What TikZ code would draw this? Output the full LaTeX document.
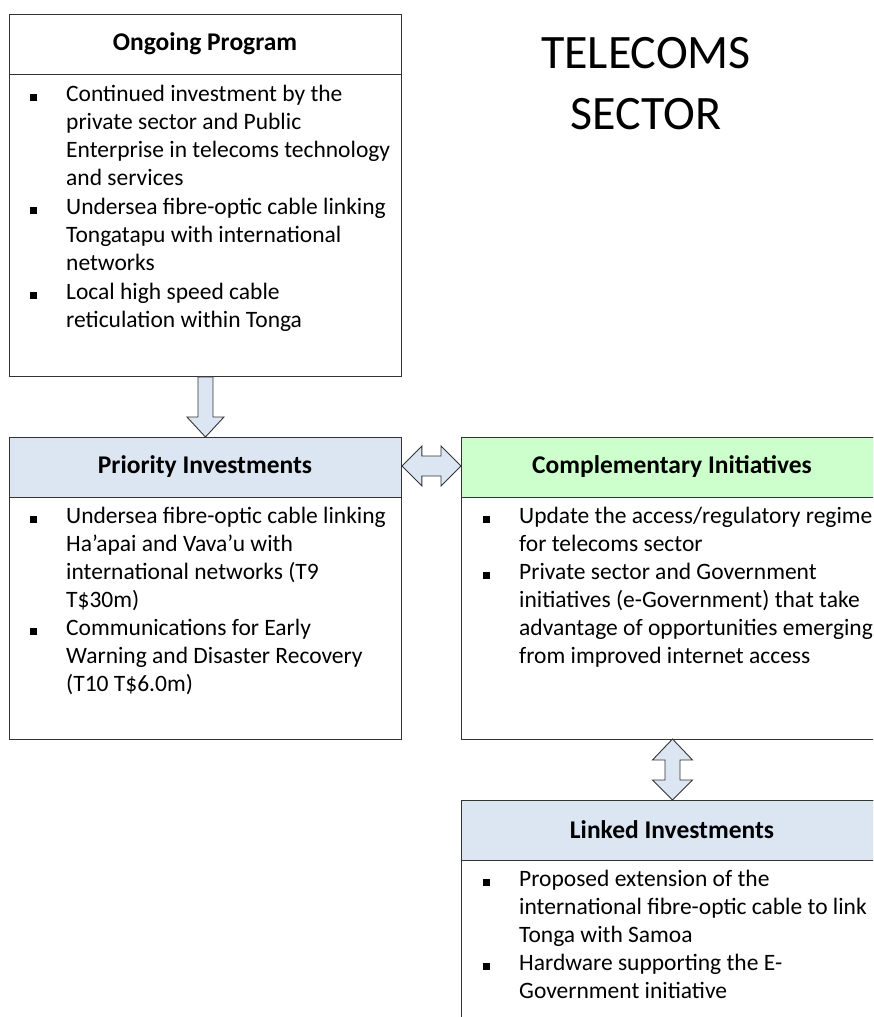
\documentclass[tikz,border=0pt]{standalone}
\usepackage{fontspec}
\setmainfont{Carlito}
\usetikzlibrary{calc}
\definecolor{hblue}{HTML}{DCE6F2}
\definecolor{hgreen}{HTML}{CCFFCC}
\definecolor{edge}{HTML}{333333}
\tikzset{
  box/.style={draw=edge, line width=0.9pt, anchor=north west, inner sep=0pt},
  head/.style={inner sep=0pt, font=\fontsize{25.5}{30}\selectfont\bfseries},
  txt/.style={anchor=mid west, inner sep=0pt, font=\fontsize{23.5}{28}\selectfont},
  bul/.style={fill=black, draw=none, minimum size=7pt, inner sep=0pt},
  blockarrow/.style={draw=edge, line width=0.9pt, fill=hblue, line join=miter},
  title/.style={inner sep=0pt, anchor=base, font=\fontsize{48}{56}\selectfont}
}
\begin{document}
\begin{tikzpicture}[x=1pt,y=-1pt]
\useasboundingbox (0,0) rectangle (873,1017);
\clip (0,0) rectangle (873,1017);
% boxes
\node[box, minimum width=392pt, minimum height=362pt] (ong) at (9,14) {};
\node[box, minimum width=392pt, minimum height=60pt] (ongh) at (9,14) {};
\node[box, minimum width=392pt, minimum height=302pt] (pri) at (9,437) {};
\node[box, fill=hblue, minimum width=392pt, minimum height=60pt] (prih) at (9,437) {};
\node[box, minimum width=430pt, minimum height=302pt] (com) at (461,437) {};
\node[box, fill=hgreen, minimum width=430pt, minimum height=60pt] (comh) at (461,437) {};
\node[box, minimum width=430pt, minimum height=300pt] (lnk) at (461,800) {};
\node[box, fill=hblue, minimum width=430pt, minimum height=60pt] (lnkh) at (461,800) {};
% headings
\node[head] (ongt) at (205,44) {Ongoing Program};
\node[head] (prit) at (205,467) {Priority Investments};
\node[head] (comt) at (672,467) {Complementary Initiatives};
\node[head] (lnkt) at (672,830) {Linked Investments};
% title
\node[title] (t1) at (646,68) {TELECOMS};
\node[title] (t2) at (646,129) {SECTOR};
% arrows
\draw[blockarrow] ($(ong.south)+(-7.5,0)$) -- ($(ong.south)+(7.5,0)$) -- ($(pri.north)+(7.5,-20)$) -- ($(pri.north)+(18.5,-20)$) -- (pri.north) -- ($(pri.north)+(-18.5,-20)$) -- ($(pri.north)+(-7.5,-20)$) -- cycle;
\coordinate (hl) at (pri.east|-0,466);
\coordinate (hr) at (com.west|-0,466);
\draw[blockarrow] (hl) -- ($(hl)+(20,-20)$) -- ($(hl)+(20,-10)$) -- ($(hr)+(-20,-10)$) -- ($(hr)+(-20,-20)$) -- (hr) -- ($(hr)+(-20,20)$) -- ($(hr)+(-20,10)$) -- ($(hl)+(20,10)$) -- ($(hl)+(20,20)$) -- cycle;
\coordinate (vt) at (672.5,739);
\coordinate (vb) at (672.5,800);
\draw[blockarrow] (vt) -- ($(vt)+(20,21)$) -- ($(vt)+(7.5,21)$) -- ($(vb)+(7.5,-20)$) -- ($(vb)+(20,-20)$) -- (vb) -- ($(vb)+(-20,-20)$) -- ($(vb)+(-7.5,-20)$) -- ($(vt)+(-7.5,21)$) -- ($(vt)+(-20,21)$) -- cycle;
% Ongoing items
\node[bul] (ob1) at (33.5,97.5) {};
\node[txt] (o1a) at (66,99) {Continued investment by the};
\node[txt] (o1b) at (66,127) {private sector and Public};
\node[txt] (o1c) at (66,155) {Enterprise in telecoms technology};
\node[txt] (o1d) at (66,183) {and services};
\node[bul] (ob2) at (33.5,210.5) {};
\node[txt] (o2a) at (66,212) {Undersea fibre-optic cable linking};
\node[txt] (o2b) at (66,240) {Tongatapu with international};
\node[txt] (o2c) at (66,268) {networks};
\node[bul] (ob3) at (33.5,295.5) {};
\node[txt] (o3a) at (66,297) {Local high speed cable};
\node[txt] (o3b) at (66,325) {reticulation within Tonga};
% Priority items
\node[bul] (pb1) at (33.5,519.5) {};
\node[txt] (p1a) at (66,521) {Undersea fibre-optic cable linking};
\node[txt] (p1b) at (66,549) {Ha’apai and Vava’u with};
\node[txt] (p1c) at (66,577) {international networks (T9};
\node[txt] (p1d) at (66,605) {T\$30m)};
\node[bul] (pb2) at (33.5,631.5) {};
\node[txt] (p2a) at (66,633) {Communications for Early};
\node[txt] (p2b) at (66,661) {Warning and Disaster Recovery};
\node[txt] (p2c) at (66,689) {(T10 T\$6.0m)};
% Complementary items
\node[bul] (cb1) at (486.5,519.5) {};
\node[txt] (c1a) at (519,521) {Update the access/regulatory regime};
\node[txt] (c1b) at (519,549) {for telecoms sector};
\node[bul] (cb2) at (486.5,575.5) {};
\node[txt] (c2a) at (519,577) {Private sector and Government};
\node[txt] (c2b) at (519,605) {initiatives (e-Government) that take};
\node[txt] (c2c) at (519,633) {advantage of opportunities emerging};
\node[txt] (c2d) at (519,661) {from improved internet access};
% Linked items
\node[bul] (lb1) at (486.5,882.5) {};
\node[txt] (l1a) at (519,884) {Proposed extension of the};
\node[txt] (l1b) at (519,912) {international fibre-optic cable to link};
\node[txt] (l1c) at (519,940) {Tonga with Samoa};
\node[bul] (lb2) at (486.5,966.5) {};
\node[txt] (l2a) at (519,968) {Hardware supporting the E-};
\node[txt] (l2b) at (519,996) {Government initiative};
\end{tikzpicture}
\end{document}
